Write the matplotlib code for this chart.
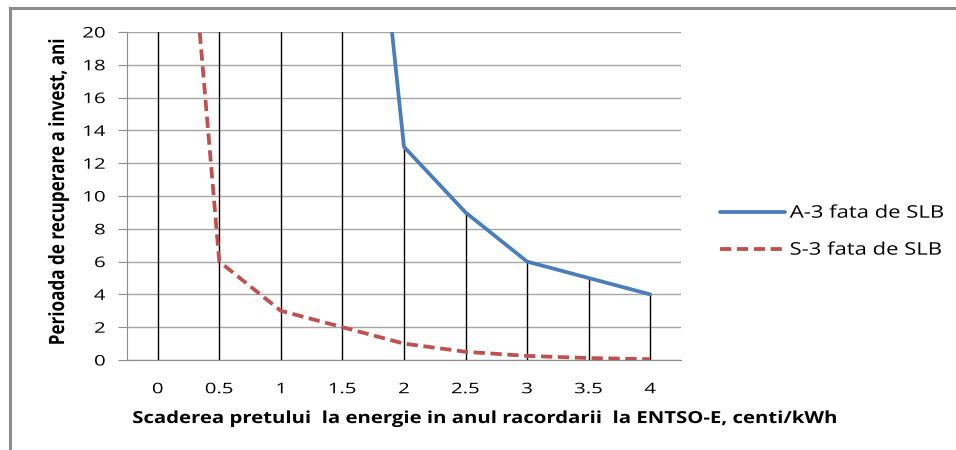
import matplotlib
matplotlib.use("Agg")
import matplotlib.pyplot as plt
from matplotlib.lines import Line2D
from matplotlib.patheffects import AbstractPathEffect
from matplotlib.transforms import Affine2D

# price reduction categories (centi/kWh)
categories = ["0", "0.5", "1", "1.5", "2", "2.5", "3", "3.5", "4"]
# payback period, years (values above 20 are off the chart)
a3_vals = [150, 98, 65, 49, 13, 9, 6, 5, 4]
s3_vals = [50, 6, 3, 2, 1, 0.5, 0.25, 0.12, 0.05]


class StretchX(AbstractPathEffect):
    # the source image is stretched sideways, so widen the glyphs a bit
    def __init__(self, sx, anchor="center"):
        super().__init__()
        self.sx = sx
        self.anchor = anchor

    def draw_path(self, renderer, gc, tpath, affine, rgbFace=None):
        ext = tpath.get_extents(affine)
        if self.anchor == "left":
            cx = ext.x0
        elif self.anchor == "right":
            cx = ext.x1
        else:
            cx = (ext.x0 + ext.x1) / 2
        t = affine + Affine2D().translate(-cx, 0).scale(self.sx, 1).translate(cx, 0)
        renderer.draw_path(gc, tpath, t, rgbFace)


plt.rcParams['font.family'] = ['Open Sans', 'DejaVu Sans']

fig = plt.figure(figsize=(9.56, 4.5), dpi=100)
ax = fig.add_axes([0.1328, 0.2, 0.5795, 0.7289])

x = list(range(len(categories)))

# drop lines from the A-3 series
ax.vlines(x, 0, a3_vals, colors="black", linewidth=1.0, zorder=2)

ax.plot(x, a3_vals, color="#4a7ebb", linewidth=2.7, label="A-3 fata de SLB",
        zorder=4, solid_capstyle="round")
ax.plot(x, s3_vals, color="#c0504d", linewidth=2.7, linestyle=(0, (3, 1.5)),
        label="S-3 fata de SLB", zorder=3)

ax.set_xlim(-0.5, len(categories) - 0.5)
ax.set_ylim(0, 20)
ax.set_yticks(range(0, 21, 2))
ax.set_xticks(x)
ax.set_xticklabels(categories)

ax.yaxis.grid(True, color="#a6a6a6", linewidth=1.0)
ax.set_axisbelow(True)
for s in ["top", "right"]:
    ax.spines[s].set_visible(False)
ax.spines["left"].set_color("#8c8c8c")
ax.spines["bottom"].set_color("#8c8c8c")
ax.tick_params(axis="y", length=6.5, color="#8c8c8c", labelsize=10.5, pad=9)
ax.tick_params(axis="x", length=0, labelsize=10.5, pad=16)

for lbl in ax.get_yticklabels():
    lbl.set_path_effects([StretchX(1.4, "right")])
for lbl in ax.get_xticklabels():
    lbl.set_path_effects([StretchX(1.4)])

xl = ax.set_xlabel("Scaderea pretului  la energie in anul racordarii  la ENTSO-E, centi/kWh",
                   fontsize=12, fontweight="bold")
ax.xaxis.set_label_coords(0.646, -0.177)
xl.set_va("center")
xl.set_path_effects([StretchX(1.22)])
yl = ax.set_ylabel("Perioada de recuperare a invest, ani", fontsize=12.3,
                   fontweight="bold")
yl.set_va("center")
ax.yaxis.set_label_coords(-0.1245, 0.515)
yl.set_path_effects([StretchX(1.24)])

leg = ax.legend(loc="center left", bbox_to_anchor=(1.042, 0.39), frameon=False,
                fontsize=12.5, handlelength=3.74, handletextpad=0.29,
                labelspacing=1.2)
for t in leg.get_texts():
    t.set_path_effects([StretchX(1.27, "left")])

# outer chart frame (top and left edges)
fig.add_artist(Line2D([0.0105, 0.0105], [0.0, 0.982], transform=fig.transFigure,
                      color="#8c8c8c", linewidth=2.2))
fig.add_artist(Line2D([0.0105, 1.0], [0.982, 0.982], transform=fig.transFigure,
                      color="#8c8c8c", linewidth=2.2))

fig.savefig("out.png", dpi=100)
